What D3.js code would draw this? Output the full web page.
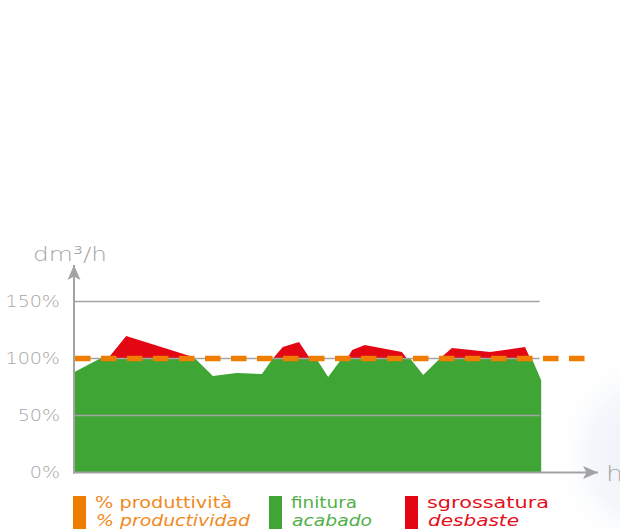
<!DOCTYPE html>
<html>
<head>
<meta charset="utf-8">
<script src="https://cdn.jsdelivr.net/npm/d3@7"></script>
<style>
	body { margin: 0; background: #fff; overflow: hidden; }
	svg text { font-family: "DejaVu Sans", sans-serif; }
</style>
</head>
<body>
<div id="chart"></div>
<script>
// time axis (h) and the two stacked series, in % of nominal dm3/h
const hours = [0, 0.50, 0.65, 1.00, 2.22, 2.32, 2.66, 3.12, 3.60, 3.81, 4.00, 4.31, 4.52, 4.64, 4.87,
	5.13, 5.23, 5.33, 5.57, 6.28, 6.38, 6.44, 6.69, 7.01, 7.24, 7.97, 8.64, 8.74, 8.77, 8.95];
const finitura = [88, 100, 100, 100, 100, 100, 84.6, 87.3, 86.4, 100, 100, 100, 100, 100, 83.8,
	100, 100, 100, 100, 100, 100, 100, 85.5, 100, 100, 100, 100, 100, 100, 81];
const sgrossatura = [0, 0, 0, 19.7, 2.2, 0, 0, 0, 0, 0, 10, 14.5, 0, 0, 0,
	0, 0, 7.5, 11.8, 5.7, 0, 0, 0, 0, 9.2, 5.7, 10.1, 0, 0, 0];

const produttivitaHours = [0, 9.81];
const produttivitaValues = [100, 100];

const yTicks = [0, 50, 100, 150];
const yTickLabels = ['0%', '50%', '100%', '150%'];
const gridHours = [0, 8.92];

const legendLabels = [
	['% produttività', '% productividad'],
	['finitura', 'acabado'],
	['sgrossatura', 'desbaste']
];
const legendColors = ['#ef7d00', '#3fa535', '#e30613'];
const legendTextColors = ['#f08a1e', '#52b047', '#e3101c'];

const yTitle = 'dm³/h';
const xTitle = 'h';

function drawChart() {
	const width = 620, height = 529;
	const gray = '#a3a3a3';

	const svg = d3.select('#chart').append('svg')
		.attr('width', width)
		.attr('height', height);

	const defs = svg.append('defs');
	const bg = defs.append('radialGradient')
		.attr('id', 'bg')
		.attr('cx', 0.5).attr('cy', 0.5).attr('r', 0.5);
	bg.append('stop').attr('offset', '0%').attr('stop-color', '#e9eff7').attr('stop-opacity', 1);
	bg.append('stop').attr('offset', '60%').attr('stop-color', '#f0f4f9').attr('stop-opacity', 0.7);
	bg.append('stop').attr('offset', '100%').attr('stop-color', '#ffffff').attr('stop-opacity', 0);

	defs.append('marker')
		.attr('id', 'arrow')
		.attr('viewBox', '-15 -7 16 14')
		.attr('refX', 0).attr('refY', 0)
		.attr('markerWidth', 16).attr('markerHeight', 14)
		.attr('markerUnits', 'userSpaceOnUse')
		.attr('orient', 'auto')
		.append('path')
		.attr('d', 'M0,0 L-15,-6.5 L-11.5,0 L-15,6.5 Z')
		.attr('fill', gray);

	// faint bluish glow lower right
	svg.append('ellipse')
		.attr('cx', 650).attr('cy', 455)
		.attr('rx', 100).attr('ry', 110)
		.attr('fill', 'url(#bg)');

	const x = d3.scaleLinear().domain([0, 10]).range([74, 596]);
	const y = d3.scaleLinear().domain([0, 150]).range([472.5, 301.5]);

	const rows = hours.map((h, i) => ({ h: h, finitura: finitura[i], sgrossatura: sgrossatura[i] }));
	const series = d3.stack().keys(['finitura', 'sgrossatura'])(rows);
	const fills = { finitura: '#3fa535', sgrossatura: '#e30613' };

	const area = d3.area()
		.x(d => x(d.data.h))
		.y0(d => y(d[0]))
		.y1(d => y(d[1]));

	svg.selectAll('.layer')
		.data(series)
		.enter().append('path')
		.attr('class', 'layer')
		.attr('fill', d => fills[d.key])
		.attr('d', area);

	// gridlines over the areas
	svg.selectAll('.grid')
		.data(yTicks.filter(t => t > 0))
		.enter().append('line')
		.attr('class', 'grid')
		.attr('x1', x(gridHours[0]))
		.attr('x2', x(gridHours[1]))
		.attr('y1', d => y(d))
		.attr('y2', d => y(d))
		.attr('stroke', gray)
		.attr('stroke-width', 1.5);

	const stretch = function(k) {
		return function() {
			this.setAttribute('textLength', this.getComputedTextLength() * k);
			this.setAttribute('lengthAdjust', 'spacingAndGlyphs');
		};
	};
	const fitTo = function(widths) {
		return function(d, i) {
			this.setAttribute('textLength', widths[i]);
			this.setAttribute('lengthAdjust', 'spacingAndGlyphs');
		};
	};

	// tick labels, stretched to mimic the wide face
	svg.selectAll('.tick')
		.data(yTicks)
		.enter().append('text')
		.attr('class', 'tick')
		.attr('x', 60)
		.attr('y', d => y(d) + 5)
		.attr('text-anchor', 'end')
		.attr('font-size', 15)
		.attr('font-weight', 300)
		.attr('fill', '#a6a6a6')
		.text((d, i) => yTickLabels[i])
		.each(stretch(1.27));

	// axes with arrows
	svg.append('line')
		.attr('x1', x(0)).attr('y1', y(0) + 1)
		.attr('x2', x(0)).attr('y2', 265)
		.attr('stroke', gray).attr('stroke-width', 2)
		.attr('marker-end', 'url(#arrow)');

	svg.append('line')
		.attr('x1', x(0) - 1).attr('y1', y(0))
		.attr('x2', 598).attr('y2', y(0))
		.attr('stroke', gray).attr('stroke-width', 2)
		.attr('marker-end', 'url(#arrow)');

	// target productivity dashed line
	const line = d3.line()
		.x((d, i) => x(produttivitaHours[i]))
		.y(d => y(d));

	svg.append('path')
		.datum(produttivitaValues)
		.attr('d', line)
		.attr('fill', 'none')
		.attr('stroke', legendColors[0])
		.attr('stroke-width', 5.5)
		.attr('stroke-dasharray', '15.5,10.5')
		.attr('transform', 'translate(1,0)');

	svg.append('text')
		.attr('x', 33).attr('y', 261)
		.attr('font-size', 20)
		.attr('font-weight', 300)
		.attr('fill', '#a6a6a6')
		.text(yTitle)
		.each(function() {
			this.setAttribute('textLength', 74);
			this.setAttribute('lengthAdjust', 'spacingAndGlyphs');
		});

	svg.append('text')
		.attr('x', 606).attr('y', 481)
		.attr('font-size', 21)
		.attr('font-weight', 300)
		.attr('fill', '#a6a6a6')
		.text(xTitle)
		.each(stretch(1.3));

	// legend
	const legendX = [73, 269, 405];
	const firstWidths = [137, 66, 122];
	const secondWidths = [154, 80, 91];
	const legend = svg.selectAll('.legend')
		.data(legendLabels)
		.enter().append('g')
		.attr('class', 'legend')
		.attr('transform', (d, i) => `translate(${legendX[i]},496)`);

	legend.append('rect')
		.attr('width', 13)
		.attr('height', 40)
		.attr('fill', (d, i) => legendColors[i]);

	legend.append('text')
		.attr('x', 22).attr('y', 12)
		.attr('font-size', 15)
		.attr('fill', (d, i) => legendTextColors[i])
		.text(d => d[0])
		.each(fitTo(firstWidths));

	legend.append('text')
		.attr('x', 23).attr('y', 30)
		.attr('font-size', 15)
		.attr('font-style', 'italic')
		.attr('fill', (d, i) => legendTextColors[i])
		.text(d => d[1])
		.each(fitTo(secondWidths));
}

drawChart();
</script>
</body>
</html>
